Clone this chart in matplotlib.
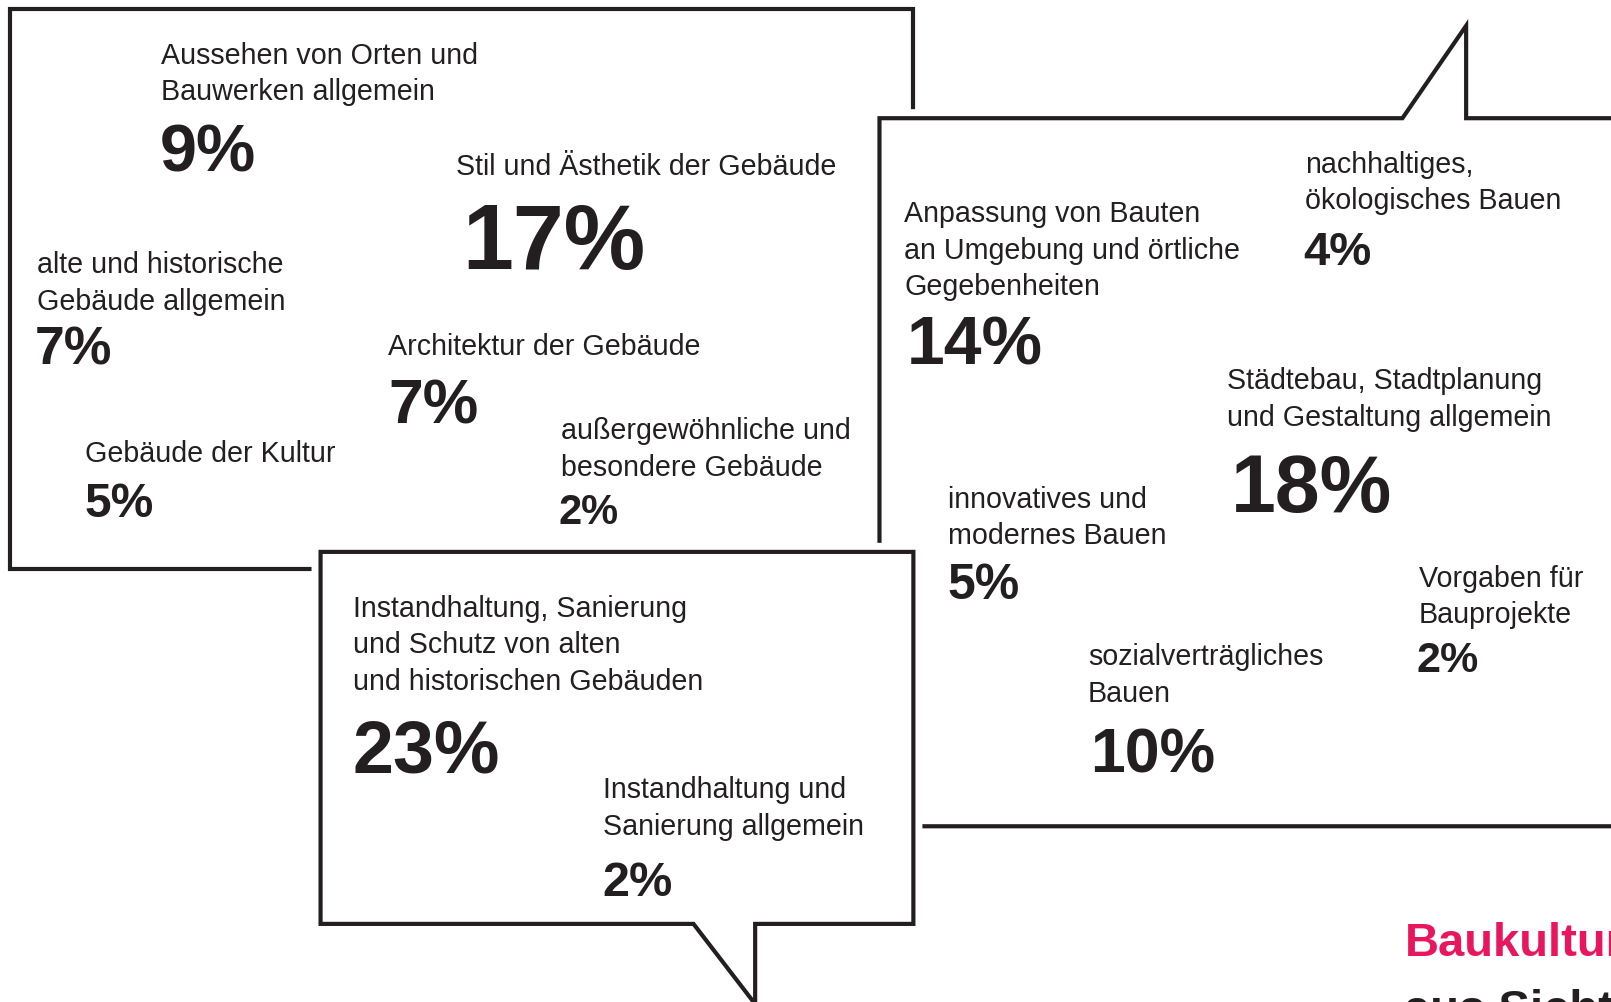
import matplotlib
matplotlib.use("Agg")
import matplotlib.pyplot as plt
from matplotlib.patches import Polygon

# data: topics and shares (percent)
box1_labels = ["Aussehen von Orten und\nBauwerken allgemein",
               "Stil und Ästhetik der Gebäude",
               "alte und historische\nGebäude allgemein",
               "Architektur der Gebäude",
               "Gebäude der Kultur",
               "außergewöhnliche und\nbesondere Gebäude"]
box1_values = [9, 17, 7, 7, 5, 2]

box3_labels = ["Instandhaltung, Sanierung\nund Schutz von alten\nund historischen Gebäuden",
               "Instandhaltung und\nSanierung allgemein"]
box3_values = [23, 2]

box2_labels = ["Anpassung von Bauten\nan Umgebung und örtliche\nGegebenheiten",
               "nachhaltiges,\nökologisches Bauen",
               "Städtebau, Stadtplanung\nund Gestaltung allgemein",
               "innovatives und\nmodernes Bauen",
               "Vorgaben für\nBauprojekte",
               "sozialverträgliches\nBauen"]
box2_values = [14, 4, 18, 5, 2, 10]

title_1 = "Baukultur"
title_2 = "aus Sicht der Bevölkerung"

# layout (in pixel units of the picture): label x, first baseline, pct x, pct baseline, pct size
box1_pos = [(157, 62, 157, 167, 48), (444, 170, 452, 262, 66),
            (36, 266, 36, 355, 38.5), (378, 345, 380, 412, 45),
            (83, 450, 84, 503, 34.5), (546, 427, 546, 510, 30)]
box3_pos = [(344, 600, 345, 752, 53), (587, 777, 588, 872, 35)]
box2_pos = [(880, 216, 885, 355, 49), (1270, 168, 1270, 258, 34),
            (1194, 379, 1200, 498, 58), (923, 494, 924, 583, 36),
            (1381, 571, 1381, 654, 31), (1059, 647, 1063, 752, 45)]

ink = "#231f20"
pink = "#e8175d"
font = "Liberation Sans"

fig = plt.figure(figsize=(16.11, 10.03), dpi=100)
ax = fig.add_axes([0, 0, 1, 1])
ax.set_xlim(0, 1568)
ax.set_ylim(976, 0)
ax.axis("off")

def bubble(pts, z):
    # white halo under the black outline so it cuts boxes behind
    ax.add_patch(Polygon(pts, closed=True, facecolor="white", edgecolor="white",
                         lw=13, joinstyle="miter", zorder=z))
    ax.add_patch(Polygon(pts, closed=True, facecolor="white", edgecolor=ink,
                         lw=3, joinstyle="miter", zorder=z + 0.1))

bubble([(10, 10), (889, 10), (889, 555), (10, 555)], 1)
bubble([(856, 116), (1365, 116), (1427, 26), (1427, 116), (1640, 116),
        (1640, 805), (856, 805)], 2)
bubble([(312, 538), (889, 538), (889, 900), (735, 900), (735, 978),
        (675, 900), (312, 900)], 3)

def put(labels, values, pos, z):
    for lab, val, (lx, ly, px, py, ps) in zip(labels, values, pos):
        for i, line in enumerate(lab.split("\n")):
            ax.text(lx, ly + i * 35.7, line, fontsize=20.6, color=ink,
                    family=font, va="baseline", ha="left", zorder=z)
        ax.text(px - 2, py, f"{val}%", fontsize=ps, color=ink, family=font,
                fontweight="bold", va="baseline", ha="left", zorder=z)

put(box1_labels, box1_values, box1_pos, 1.5)
put(box2_labels, box2_values, box2_pos, 2.5)
put(box3_labels, box3_values, box3_pos, 3.5)

ax.text(1367, 930, title_1, fontsize=34, color=pink, family=font,
        fontweight="bold", va="baseline", ha="left", clip_on=False)
ax.text(1367, 995, title_2, fontsize=34, color=ink, family=font,
        fontweight="bold", va="baseline", ha="left", clip_on=False)

fig.savefig("out.png", dpi=100)
